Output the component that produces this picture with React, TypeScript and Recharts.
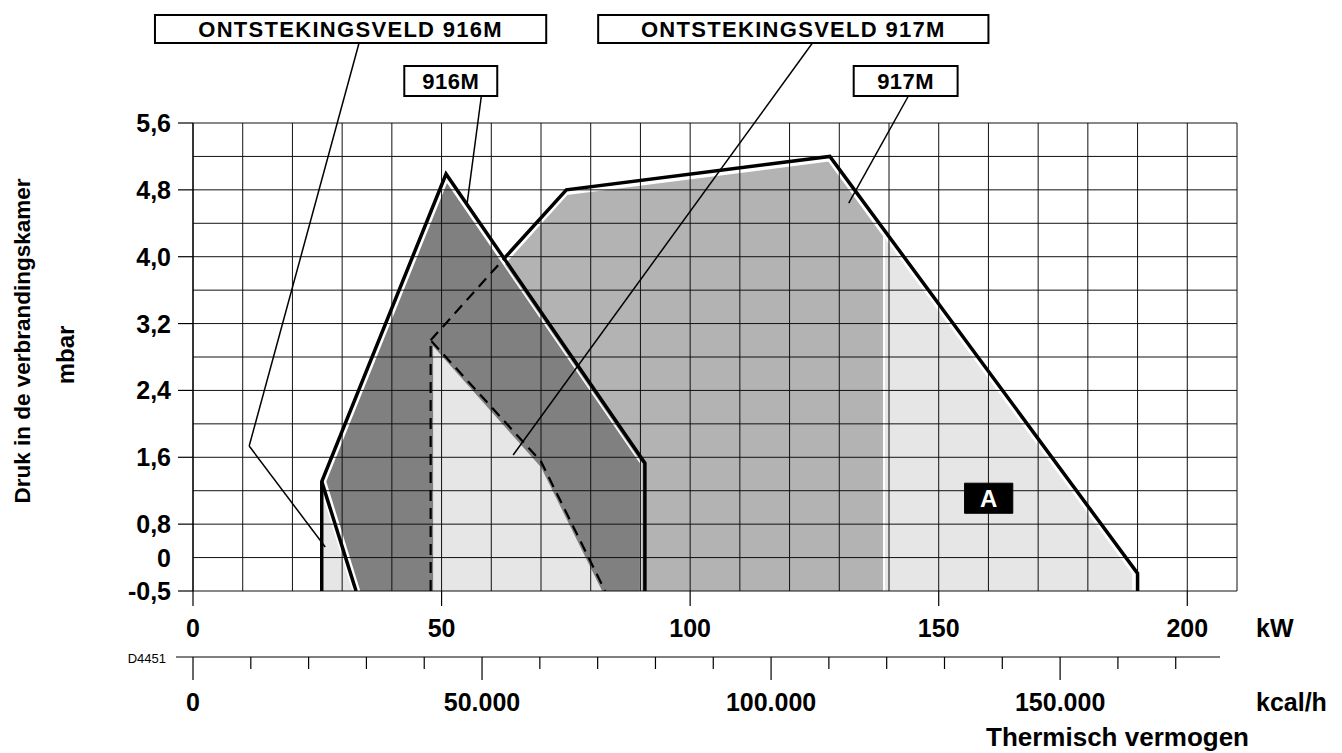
import React from 'react';
import {
  ComposedChart,
  Area,
  Line,
  XAxis,
  YAxis,
  CartesianGrid,
  ReferenceLine,
  ReferenceArea,
} from 'recharts';

const FONT = '"Liberation Sans", Arial, Helvetica, sans-serif';

// ---------- axes ----------
// kW axis (grid every 10 kW, labels every 50 kW)
const KW_GRID = [0, 10, 20, 30, 40, 50, 60, 70, 80, 90, 100, 110, 120, 130, 140, 150, 160, 170, 180, 190, 200, 210];
const KW_LABELS = [0, 50, 100, 150, 200];
const KW_UNIT = 'kW';
const KW_MAX = 210;
// kcal/h axis (1 kW = 860 kcal/h)
const KCAL_PER_KW = 860;
const KCAL_TICKS = [0, 10000, 20000, 30000, 40000, 50000, 60000, 70000, 80000, 90000, 100000, 110000, 120000, 130000, 140000, 150000, 160000, 170000];
const KCAL_LABELS = [0, 50000, 100000, 150000];
const KCAL_TEXT = ['0', '50.000', '100.000', '150.000'];
const KCAL_RANGE = [{ x: 0, y: 0 }, { x: KW_MAX * KCAL_PER_KW, y: 0 }];
const KCAL_UNIT = 'kcal/h';
const X_TITLE = 'Thermisch vermogen';
const DRAWING_CODE = 'D4451';
// pressure axis: uniform grid of 0.4 steps; position 0 is labelled "-0,5", 0.4 is "0", from 0.8 on it equals mbar
const Y_GRID = [0, 0.4, 0.8, 1.2, 1.6, 2, 2.4, 2.8, 3.2, 3.6, 4, 4.4, 4.8, 5.2, 5.6];
const Y_LABEL_POS = [0, 0.4, 0.8, 1.6, 2.4, 3.2, 4, 4.8, 5.6];
const Y_LABEL_TEXT = ['-0,5', '0', '0,8', '1,6', '2,4', '3,2', '4,0', '4,8', '5,6'];
const Y_TITLE = 'Druk in de verbrandingskamer';
const Y_UNIT = 'mbar';

// ---------- fields (x: kW, y: position on pressure scale) ----------
// filled regions
const FILL_917_FULL = [
  { x: 48.4, y: 0 }, { x: 48.4, y: 2.98 }, { x: 75.2, y: 4.75 }, { x: 127.9, y: 5.15 }, { x: 189.1, y: 0.21 }, { x: 189.1, y: 0 },
];
const FILL_917_LOW = [
  { x: 48.4, y: 0 }, { x: 48.4, y: 2.98 }, { x: 75.2, y: 4.75 }, { x: 127.9, y: 5.15 }, { x: 139.0, y: 4.25 }, { x: 139.0, y: 0 },
];
const FILL_916 = [
  { x: 33.5, y: 0 }, { x: 26.65, y: 1.31 }, { x: 51.06, y: 4.9 }, { x: 90.04, y: 1.53 }, { x: 90.04, y: 0 },
];
const FILL_IGN_917 = [
  { x: 48.3, y: 0 }, { x: 48.3, y: 2.93 }, { x: 70.0, y: 1.48 }, { x: 82.3, y: 0 },
];
const FILL_IGN_916 = [
  { x: 26.3, y: 0 }, { x: 26.3, y: 1.09 }, { x: 32.06, y: 0 },
];
// outlines
const EDGE_916 = [
  { x: 25.9, y: 0 }, { x: 25.9, y: 1.31 }, { x: 50.9, y: 4.99 }, { x: 90.9, y: 1.53 }, { x: 90.9, y: 0 },
];
const EDGE_IGN_916 = [{ x: 25.9, y: 1.31 }, { x: 32.8, y: 0 }];
const EDGE_917 = [
  { x: 62.6, y: 3.98 }, { x: 75.1, y: 4.8 }, { x: 128.1, y: 5.2 }, { x: 190.0, y: 0.21 }, { x: 190.0, y: 0 },
];
const EDGE_917_HIDDEN = [{ x: 47.8, y: 3.0 }, { x: 62.6, y: 3.98 }];
const EDGE_IGN_917 = [
  { x: 47.8, y: 0 }, { x: 47.8, y: 3.0 }, { x: 70.0, y: 1.55 }, { x: 82.9, y: 0 },
];

// ---------- annotations ----------
const BOX_TEXT = ['ONTSTEKINGSVELD 916M', '916M', 'ONTSTEKINGSVELD 917M', '917M'];
const BOX_X1 = [-7.65, 42.5, 81.5, 132.9];
const BOX_X2 = [71.05, 61.2, 160.0, 153.8];
const BOX_Y1 = [6.557, 5.923, 6.557, 5.923];
const BOX_Y2 = [6.892, 6.282, 6.892, 6.282];
const LEADERS = [
  [{ x: 33.4, y: 6.557 }, { x: 11.3, y: 1.735 }, { x: 26.6, y: 0.526 }],
  [{ x: 58.0, y: 5.923 }, { x: 55.1, y: 4.62 }],
  [{ x: 124.6, y: 6.557 }, { x: 64.4, y: 1.627 }],
  [{ x: 143.9, y: 5.923 }, { x: 131.9, y: 4.64 }],
];
const MARK_A = { text: 'A', x1: 155.2, x2: 164.9, y1: 0.93, y2: 1.29 };

const LIGHT = '#e6e6e6';
const MID = '#b3b3b3';
const DARK = '#808080';

const txt = { fontFamily: FONT, fontWeight: 700, fill: '#000' } as const;
const NUM_SIZE = 25;

const YTick = (props: any) => {
  const { x, y, payload } = props;
  const i = Y_LABEL_POS.indexOf(payload.value);
  if (i < 0) return <g />;
  return (
    <g>
      {payload.value !== 0.4 && <line x1={x - 15} x2={x} y1={y} y2={y} stroke="#000" strokeWidth={1.2} />}
      <text x={x - 22} y={y} dy="0.36em" textAnchor="end" fontSize={NUM_SIZE} {...txt}>
        {Y_LABEL_TEXT[i]}
      </text>
    </g>
  );
};

const KwTick = (props: any) => {
  const { x, y, payload } = props;
  const v = payload.value;
  const major = KW_LABELS.indexOf(v) >= 0;
  return (
    <g>
      {major && <line x1={x} x2={x} y1={y} y2={y + 15} stroke="#000" strokeWidth={1.2} />}
      {major && (
        <text x={x} y={y + 46} textAnchor="middle" fontSize={NUM_SIZE} {...txt}>
          {v}
        </text>
      )}
      {v === KW_MAX && (
        <text x={x + 19} y={y + 46} textAnchor="start" fontSize={NUM_SIZE} {...txt}>
          {KW_UNIT}
        </text>
      )}
    </g>
  );
};

const KcalTick = (props: any) => {
  const { x, y, payload } = props;
  const v = payload.value;
  const i = KCAL_LABELS.indexOf(v);
  return (
    <g>
      <line x1={x} x2={x} y1={y} y2={y + (i >= 0 ? 23 : 12)} stroke="#000" strokeWidth={1.2} />
      {i >= 0 && (
        <text x={x} y={y + 54} textAnchor="middle" fontSize={NUM_SIZE} {...txt}>
          {KCAL_TEXT[i]}
        </text>
      )}
    </g>
  );
};

const kcalAxisLabel = (props: any) => {
  const vb = props.viewBox || {};
  const right = vb.x + vb.width;
  return (
    <g>
      <text x={right + 19} y={vb.y + 54} textAnchor="start" fontSize={NUM_SIZE} {...txt}>
        {KCAL_UNIT}
      </text>
      <text x={right + 12} y={vb.y + 89} textAnchor="end" fontSize={26} {...txt}>
        {X_TITLE}
      </text>
      <text x={vb.x - 27} y={vb.y + 6} textAnchor="end" fontSize={13} fontFamily={FONT} fill="#000">
        {DRAWING_CODE}
      </text>
    </g>
  );
};

const yAxisLabel = (props: any) => {
  const vb = props.viewBox || {};
  const left = vb.x + vb.width;
  const t1x = left - 171;
  const t2x = left - 128;
  const t1y = 341;
  const t2y = 355;
  return (
    <g>
      <text x={t1x} y={t1y} dy="0.36em" textAnchor="middle" fontSize={22.5} {...txt} transform={`rotate(-90 ${t1x} ${t1y})`}>
        {Y_TITLE}
      </text>
      <text x={t2x} y={t2y} dy="0.36em" textAnchor="middle" fontSize={24} {...txt} transform={`rotate(-90 ${t2x} ${t2y})`}>
        {Y_UNIT}
      </text>
    </g>
  );
};

const boxLabel = (text: string, color: string, size: number, spacing: number) => (props: any) => {
  const vb = props.viewBox || {};
  return (
    <text
      x={vb.x + vb.width / 2}
      y={vb.y + vb.height / 2}
      dy="0.36em"
      textAnchor="middle"
      fontSize={size}
      fontFamily={FONT}
      fontWeight={700}
      fill={color}
      letterSpacing={spacing}
    >
      {text}
    </text>
  );
};

const areaCommon = {
  xAxisId: 0,
  dataKey: 'y',
  type: 'linear' as const,
  isAnimationActive: false,
  dot: false,
  activeDot: false,
  fillOpacity: 1,
};

const lineCommon = {
  xAxisId: 0,
  dataKey: 'y',
  type: 'linear' as const,
  isAnimationActive: false,
  dot: false,
  activeDot: false,
  stroke: '#000',
  strokeLinejoin: 'miter' as const,
  strokeLinecap: 'butt' as const,
  zIndex: 400,
};

export default function App() {
  return (
    <div style={{ width: 1342, height: 753 }}>
      <style>{'html,body{margin:0;padding:0;overflow:hidden;background:#fff}'}</style>
      <ComposedChart width={1342} height={753} margin={{ top: 123, right: 105, bottom: 0, left: 93 }}>
        <XAxis
          xAxisId={0}
          dataKey="x"
          type="number"
          domain={[0, KW_MAX]}
          allowDataOverflow
          ticks={KW_GRID}
          interval={0}
          tick={KwTick}
          tickLine={false}
          axisLine={false}
          tickSize={0}
          tickMargin={0}
          height={66}
        />
        <XAxis
          xAxisId={1}
          dataKey="x"
          type="number"
          domain={[0, KW_MAX * KCAL_PER_KW]}
          allowDataOverflow
          ticks={KCAL_TICKS}
          interval={0}
          tick={KcalTick}
          tickLine={false}
          axisLine={{ stroke: '#000', strokeWidth: 1.2, transform: 'translate(-17,0)' }}
          tickSize={0}
          tickMargin={0}
          height={96}
          label={kcalAxisLabel}
        />
        <YAxis
          type="number"
          domain={[0, 5.6]}
          allowDataOverflow
          ticks={Y_GRID}
          interval={0}
          tick={YTick}
          tickLine={false}
          tickSize={0}
          tickMargin={0}
          width={100}
          axisLine={{ stroke: '#000', strokeWidth: 1.2 }}
          label={yAxisLabel}
        />

        <Area {...areaCommon} data={FILL_917_FULL} fill={LIGHT} stroke="#fff" strokeWidth={2} />
        <Area {...areaCommon} data={FILL_917_LOW} fill={MID} stroke="#fff" strokeWidth={2} />
        <Area {...areaCommon} data={FILL_916} fill={DARK} stroke="#fff" strokeWidth={1.5} />
        <Area {...areaCommon} data={FILL_IGN_917} fill={LIGHT} stroke="none" />
        <Area {...areaCommon} data={FILL_IGN_916} fill={LIGHT} stroke="none" />

        <CartesianGrid xAxisId={0} stroke="#111" strokeWidth={1} zIndex={150} />

        <Line {...lineCommon} data={EDGE_916} strokeWidth={3.5} />
        <Line {...lineCommon} data={EDGE_IGN_916} strokeWidth={3.5} />
        <Line {...lineCommon} data={EDGE_917} strokeWidth={3.5} />
        <Line {...lineCommon} data={EDGE_917_HIDDEN} strokeWidth={2.2} strokeDasharray="11 7" />
        <Line {...lineCommon} data={EDGE_IGN_917} strokeWidth={2.2} strokeDasharray="11 7" />
        <Line
          xAxisId={1}
          data={KCAL_RANGE}
          dataKey="y"
          stroke="none"
          dot={false}
          activeDot={false}
          isAnimationActive={false}
        />

        {LEADERS.map((pts, li) =>
          pts.slice(1).map((p, k) => (
            <ReferenceLine
              key={`l${li}-${k}`}
              xAxisId={0}
              segment={[pts[k], p]}
              stroke="#000"
              strokeWidth={1.5}
              ifOverflow="visible"
              zIndex={600}
            />
          ))
        )}
        {BOX_TEXT.map((t, i) => (
          <ReferenceArea
            key={`b${i}`}
            xAxisId={0}
            x1={BOX_X1[i]}
            x2={BOX_X2[i]}
            y1={BOX_Y1[i]}
            y2={BOX_Y2[i]}
            fill="#fff"
            fillOpacity={1}
            stroke="#000"
            strokeWidth={2}
            ifOverflow="visible"
            zIndex={600}
            label={boxLabel(t, '#000', 22, i % 2 === 0 ? 1.3 : 0.5)}
          />
        ))}
        <ReferenceArea
          xAxisId={0}
          x1={MARK_A.x1}
          x2={MARK_A.x2}
          y1={MARK_A.y1}
          y2={MARK_A.y2}
          fill="#000"
          fillOpacity={1}
          stroke="#000"
          ifOverflow="visible"
          zIndex={600}
          label={boxLabel(MARK_A.text, '#fff', 24, 0)}
        />
      </ComposedChart>
    </div>
  );
}
